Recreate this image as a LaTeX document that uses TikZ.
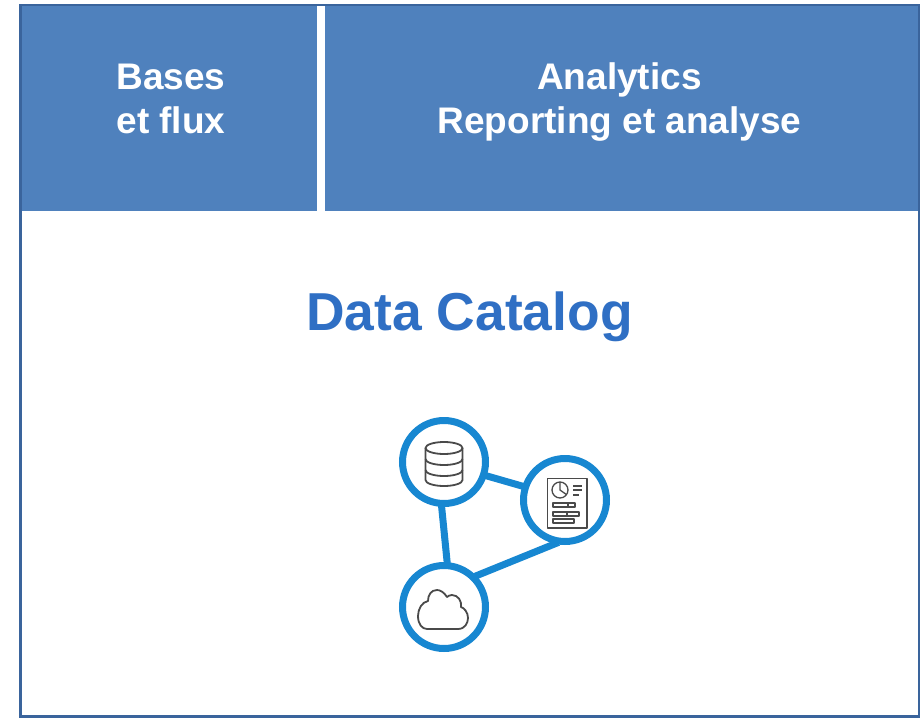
\documentclass[tikz,border=0pt]{standalone}
\usepackage{fontspec}
\setmainfont{Liberation Sans}
\usetikzlibrary{backgrounds}
\definecolor{bandblue}{HTML}{4F81BD}
\definecolor{frameblue}{HTML}{3A649C}
\definecolor{titleblue}{HTML}{2F6FC4}
\definecolor{hubblue}{HTML}{1787D1}
\definecolor{icongrey}{HTML}{4A4A4A}
\tikzset{
  band/.style={fill=bandblue,draw=none,inner sep=0pt,outer sep=0pt},
  bandlabel/.style={text=white,align=center,font=\fontsize{37}{44}\selectfont\bfseries},
  titlelabel/.style={text=titleblue,font=\fontsize{53.4}{60}\selectfont\bfseries},
  hub/.style={circle,draw=hubblue,line width=7pt,fill=white,minimum size=83pt,inner sep=0pt},
  link/.style={draw=hubblue,line width=7pt,shorten <=-4pt,shorten >=-4pt},
  icon/.style={draw=icongrey,line width=1.8pt,line join=round},
  thinicon/.style={draw=icongrey,line width=1.3pt,line join=round}
}
\begin{document}
\begin{tikzpicture}[x=1pt,y=-1pt]
\useasboundingbox (0,0) rectangle (922,718);
\node[band,minimum width=296pt,minimum height=205pt] (bases) at (168.5,108.5) {};
\node[band,minimum width=594pt,minimum height=205pt] (analytics) at (622,108.5) {};
\draw[frameblue,line width=2.5pt] (20.5,5) rectangle (919,716.5); % outer frame
\node[bandlabel] (basesText) at (171,99) {Bases\\et flux};
\node[bandlabel] (analyticsText) at (619.5,102) {Analytics\\Reporting et analyse};
\node[titlelabel] (title) at (469.5,317) {Data Catalog};
\node[hub] (db) at (444,462) {};
\node[hub] (report) at (565,500) {};
\node[hub] (cloud) at (444,607) {};
\begin{scope}[on background layer]
\draw[link] (db.-93) -- (cloud.86);
\draw[link] (db.-18) -- (report.162);
\draw[link] (report.257) -- (cloud.44);
\end{scope}
% database icon
\begin{scope}[shift={(db)},y=1pt]
\draw[icon] (0,14) ellipse (18.5 and 6);
\draw[icon] (-18.5,14) -- (-18.5,-18) arc[start angle=180,end angle=360,x radius=18.5,y radius=6] -- (18.5,14);
\draw[icon] (-18.5,3) arc[start angle=180,end angle=360,x radius=18.5,y radius=6];
\draw[icon] (-18.5,-8) arc[start angle=180,end angle=360,x radius=18.5,y radius=6];
\end{scope}
% report icon
\begin{scope}[shift={(report)},y=1pt]
\draw[thinicon,line width=1.6pt] (-17.5,-28) rectangle (22,21.7);
\draw[thinicon] (-5,10) circle (8);
\draw[thinicon] (-5,18) -- (-5,10) -- (1.5,5.4);
\draw[thinicon] (8,14) -- (17,14);
\draw[thinicon] (8,10) -- (17,10);
\draw[thinicon] (8,5) -- (14,5);
\draw[thinicon] (-12,-7) rectangle (10,-3);
\draw[thinicon] (3,-7) -- (3,-3);
\draw[thinicon] (-12,-16) rectangle (14,-12);
\draw[thinicon] (2,-16) -- (2,-12);
\draw[thinicon] (-12,-23) rectangle (9,-19);
\end{scope}
% cloud icon
\begin{scope}[shift={(cloud)},y=1pt]
\draw[icon] (-17,-22) -- (14,-22) .. controls (21,-22) and (24,-16) .. (24,-11)
  .. controls (24,-5) and (20,-1) .. (17,0) .. controls (18,6) and (14,12) .. (8,12)
  .. controls (6,12) and (4,11) .. (3,10) .. controls (0,15) and (-4,17) .. (-7,17)
  .. controls (-13,17) and (-16,12) .. (-16,6) .. controls (-22,5) and (-26,-2) .. (-26,-9)
  .. controls (-26,-17) and (-22,-22) .. (-17,-22) -- cycle;
\end{scope}
\end{tikzpicture}
\end{document}
